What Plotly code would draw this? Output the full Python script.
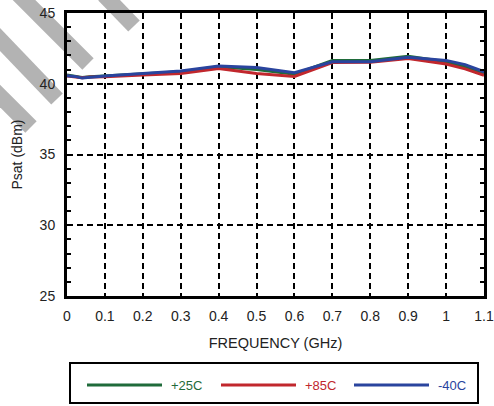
import plotly.graph_objects as go

# Saturated output power vs. frequency at three temperatures
freq_ghz = [0.0, 0.02, 0.04, 0.06, 0.1, 0.2, 0.3, 0.4, 0.5, 0.6, 0.7, 0.8, 0.9, 1.0, 1.05, 1.1]
psat_25c = [40.62, 40.55, 40.45, 40.50, 40.55, 40.70, 40.85, 41.20, 41.00, 40.68, 41.65, 41.65, 41.95, 41.55, 41.20, 40.75]
psat_85c = [40.55, 40.50, 40.42, 40.48, 40.50, 40.62, 40.72, 41.08, 40.72, 40.52, 41.50, 41.52, 41.78, 41.40, 41.05, 40.60]
psat_m40c = [40.57, 40.52, 40.40, 40.45, 40.55, 40.72, 40.90, 41.25, 41.15, 40.78, 41.55, 41.56, 41.88, 41.65, 41.35, 40.85]

series_names = ["+25C", "+85C", "-40C"]
series_values = [psat_25c, psat_85c, psat_m40c]
series_colors = ["#1f6b3a", "#c1272d", "#2a449e"]

x_tick_vals = [0, 0.1, 0.2, 0.3, 0.4, 0.5, 0.6, 0.7, 0.8, 0.9, 1.0, 1.1]
x_tick_text = ["0", "0.1", "0.2", "0.3", "0.4", "0.5", "0.6", "0.7", "0.8", "0.9", "1", "1.1"]
y_tick_vals = [25, 30, 35, 40, 45]

W, H = 494, 406
ML, MR, MT, MB = 67, 10, 13, 110
PW, PH = W - ML - MR, H - MT - MB


def px_x(px):
    return (px - ML) / PW


def px_y(py):
    return (H - MB - py) / PH


FONT = "Liberation Sans, Arial, Helvetica, sans-serif"
TEXT = "#222222"

fig = go.Figure()
for name, vals, col in zip(series_names, series_values, series_colors):
    fig.add_trace(go.Scatter(x=freq_ghz, y=vals, mode="lines", name=name,
                             line=dict(color=col, width=3), showlegend=False))

shapes = []
# grey diagonal watermark strokes
stripes = [((104, -5), (134, 26)), ((4, -20), (88, 64)), ((-10, 29), (57, 99)), ((-10, 86), (31, 127))]
for (x0, y0), (x1, y1) in stripes:
    shapes.append(dict(type="line", xref="paper", yref="paper",
                       x0=px_x(x0), y0=px_y(y0), x1=px_x(x1), y1=px_y(y1),
                       line=dict(color="#b3b3b3", width=16), layer="below"))

# legend box with long line samples
shapes.append(dict(type="rect", xref="paper", yref="paper",
                   x0=px_x(70), x1=px_x(478), y0=px_y(363), y1=px_y(403),
                   line=dict(color="black", width=2), fillcolor="rgba(0,0,0,0)"))
annotations = []
leg_line_x = [87, 221, 354]
for name, col, lx in zip(series_names, series_colors, leg_line_x):
    shapes.append(dict(type="line", xref="paper", yref="paper",
                       x0=px_x(lx), x1=px_x(lx + 75), y0=px_y(385), y1=px_y(385),
                       line=dict(color=col, width=3)))
    annotations.append(dict(xref="paper", yref="paper", x=px_x(lx + 82), y=px_y(385),
                            text=name, showarrow=False, xanchor="left", yanchor="middle",
                            font=dict(family=FONT, size=13, color=col)))

fig.update_layout(
    width=W, height=H,
    margin=dict(l=ML, r=MR, t=MT, b=MB),
    paper_bgcolor="white", plot_bgcolor="rgba(0,0,0,0)",
    font=dict(family=FONT, size=14, color=TEXT),
    shapes=shapes, annotations=annotations,
    showlegend=False,
)
fig.update_xaxes(
    range=[0, 1.1], tickvals=x_tick_vals, ticktext=x_tick_text,
    showgrid=True, gridcolor="black", gridwidth=2, griddash="6px,4px",
    showline=True, linecolor="black", linewidth=3, mirror=True,
    ticks="", zeroline=False, automargin=False, ticklabelstandoff=5,
    title=dict(text="FREQUENCY (GHz)", font=dict(size=14.5), standoff=16),
    tickfont=dict(size=14),
)
fig.update_yaxes(
    range=[25, 45], tickvals=y_tick_vals,
    showgrid=True, gridcolor="black", gridwidth=2, griddash="6px,4px",
    showline=True, linecolor="black", linewidth=3, mirror="ticks",
    ticks="inside", ticklen=4, tickcolor="black", tickwidth=1.5,
    minor=dict(dtick=1, ticks="inside", ticklen=4, tickcolor="black", tickwidth=1.5, showgrid=False),
    zeroline=False, automargin=False, ticklabelstandoff=6,
    title=dict(text="Psat (dBm)", font=dict(size=14), standoff=14),
    tickfont=dict(size=14),
)

fig.write_html("out.html")
